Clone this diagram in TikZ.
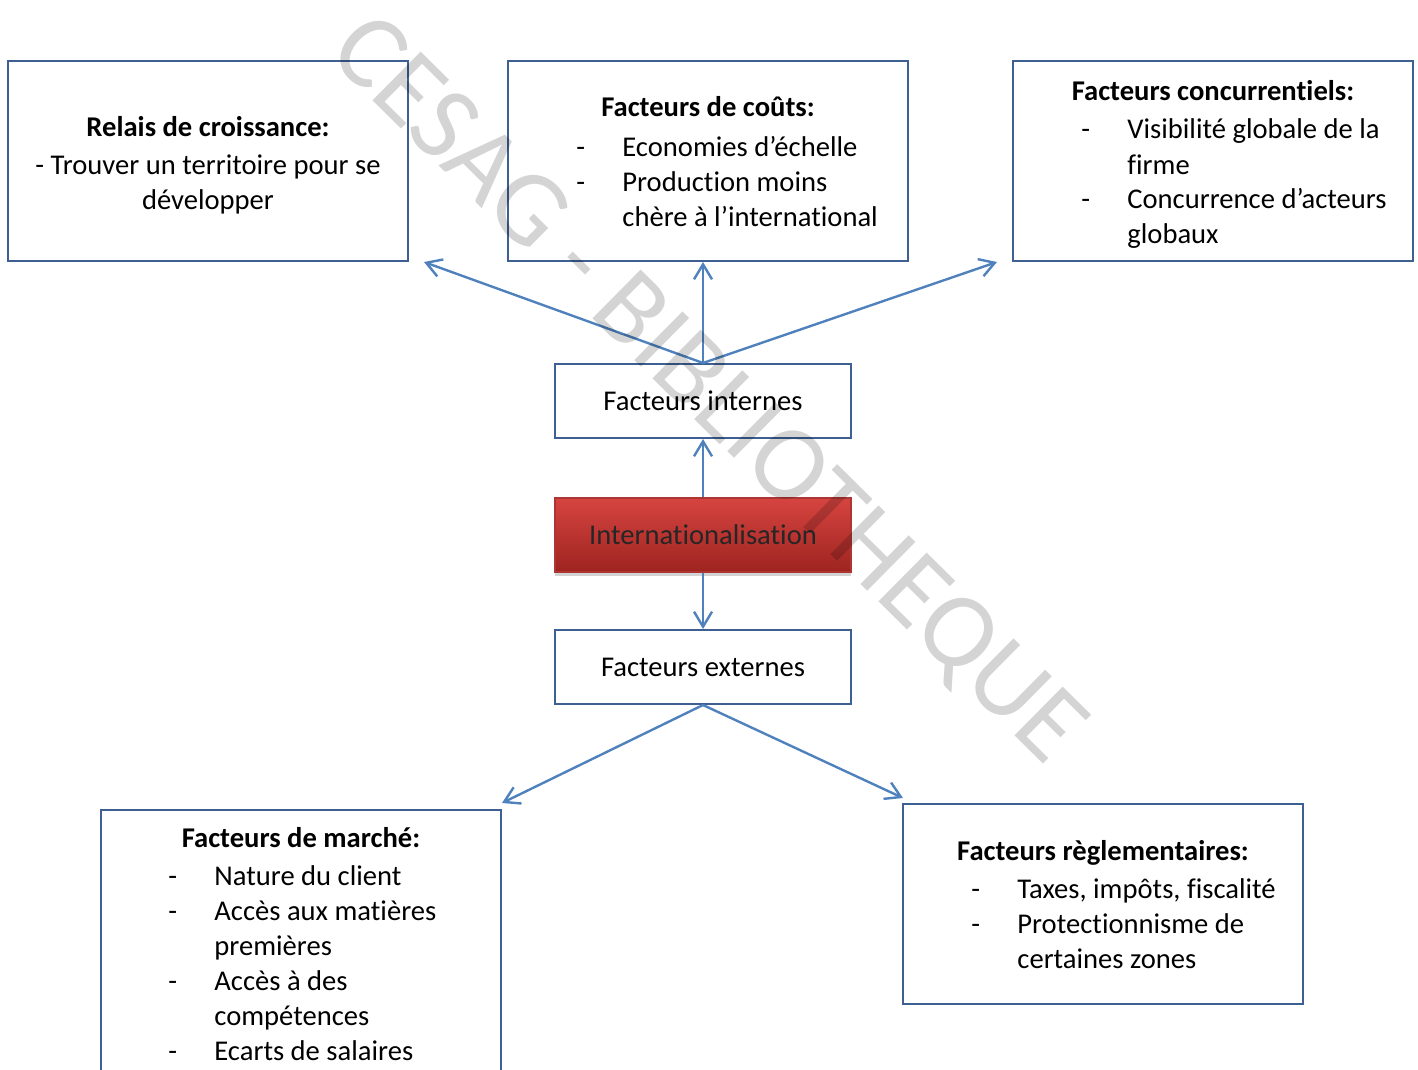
\documentclass[tikz,border=0pt]{standalone}
\usepackage{fontspec}
\setmainfont{Carlito}[Ligatures=NoCommon]
\usetikzlibrary{arrows.meta,shadows}

\definecolor{cadre}{RGB}{61,95,145}
\definecolor{fleche}{RGB}{79,129,189}
\definecolor{rougeH}{RGB}{214,68,64}
\definecolor{rougeB}{RGB}{158,36,32}

\newcommand{\txt}{\fontsize{14.3}{17.5}\selectfont}
\newcommand{\tirets}[1]{\begin{tabular}[t]{@{}p{23pt}@{}l@{}}#1\end{tabular}}

\begin{document}
\begin{tikzpicture}[x=0.5pt,y=-0.5pt,
    box/.style={draw=cadre,line width=1pt,minimum width=200pt,minimum height=100pt,inner sep=0pt},
    petit/.style={draw=cadre,line width=1pt,minimum width=148pt,minimum height=37pt,inner sep=0pt,font=\txt},
    titre/.style={font=\txt\bfseries,inner sep=0pt,anchor=base},
    liste/.style={font=\txt,inner sep=0pt,anchor=base west},
    fl/.style={draw=fleche,line width=1.2pt,-{Straight Barb[length=7.5pt,width=9pt]}}]
    \useasboundingbox (0,0) rectangle (1418,1070);
    \clip (0,0) rectangle (1418,1070);

    %% Centre
    \node[petit] (internes) at (703,401) {Facteurs internes};
    \node[petit,draw=rougeH!80!black,line width=0.6pt,top color=rougeH,bottom color=rougeB,
          drop shadow={shadow xshift=0pt,shadow yshift=-2pt,opacity=0.35},
          text=black!85] (intl) at (703,535) {Internationalisation};
    \node[petit] (externes) at (703,667) {Facteurs externes};

    %% Facteurs internes
    \node[box] (relais) at (208,161) {};
    \node[titre] (relaisT) at (208,136) {Relais de croissance:};
    \node[font=\txt,inner sep=0pt,anchor=base] (relaisL) at (208,174)
        {\begin{tabular}[t]{@{}c@{}}- Trouver un territoire pour se\\développer\end{tabular}};

    \node[box] (couts) at (708,161) {};
    \node[titre] (coutsT) at (708,117) {Facteurs de coûts:};
    \node[liste] (coutsL) at (576,156)
        {\tirets{- & Economies d’échelle\\- & Production moins\\ & chère à l’international}};

    \node[box] (concu) at (1213,161) {};
    \node[titre] (concuT) at (1213,101) {Facteurs concurrentiels:};
    \node[liste] (concuL) at (1081,139)
        {\tirets{- & Visibilité globale de la\\ & firme\\- & Concurrence d’acteurs\\ & globaux}};

    %% Facteurs externes
    \node[box,minimum height=150pt,anchor=north] (marche) at (301,809) {};
    \node[titre] (marcheT) at (301,847) {Facteurs de marché:};
    \node[liste] (marcheL) at (168,885)
        {\tirets{- & Nature du client\\- & Accès aux matières\\ & premières\\- & Accès à des\\ & compétences\\- & Ecarts de salaires}};

    \node[box] (regle) at (1103,904) {};
    \node[titre] (regleT) at (1103,860) {Facteurs règlementaires:};
    \node[liste] (regleL) at (971,898)
        {\tirets{- & Taxes, impôts, fiscalité\\- & Protectionnisme de\\ & certaines zones}};

    %% Fleches
    \coordinate (bRelais) at (424,262);
    \coordinate (bConcu) at (997,262);
    \coordinate (bMarche) at (502,803);
    \coordinate (bRegle) at (903,798);
    \draw[fl] (internes.north) -- (bRelais);
    \draw[fl] (internes.north) -- (internes.north |- couts.south);
    \draw[fl] (internes.north) -- (bConcu);
    \draw[fl] (intl.north) -- (internes.south);
    \draw[fl] (intl.south) -- (externes.north);
    \draw[fl] (externes.south) -- (bMarche);
    \draw[fl] (externes.south) -- (bRegle);

    %% Filigrane
    \node[rotate=-44.7,text=black,text opacity=0.17,font=\fontsize{53.5}{56}\selectfont,inner sep=0pt]
        (filigrane) at (706,392) {CESAG - BIBLIOTHEQUE};
\end{tikzpicture}
\end{document}
